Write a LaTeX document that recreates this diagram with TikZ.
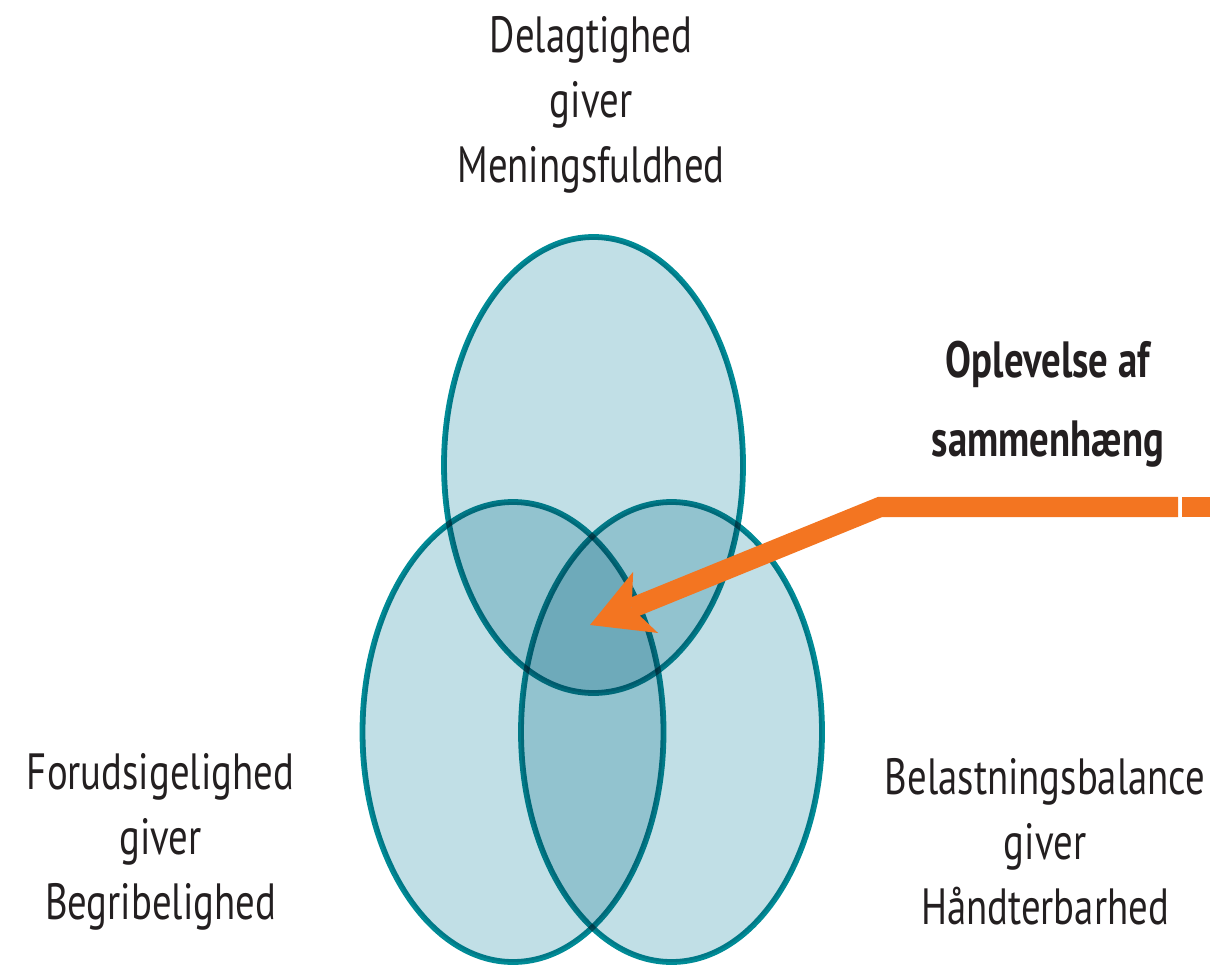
\documentclass[tikz,border=0pt]{standalone}
\usepackage{fontspec}
\setmainfont{PT Sans}[FakeStretch=0.76]
\usepackage{tikz}
\usetikzlibrary{arrows.meta}

\definecolor{vennfill}{HTML}{C1DFE6}
\definecolor{vennline}{HTML}{008B96}
\definecolor{pointer}{HTML}{F37521}
\definecolor{ink}{HTML}{231F20}

\begin{document}
\begin{tikzpicture}[
    set/.style={draw=vennline, fill=vennfill, line width=3.3pt},
    lbl/.style={align=center, text=ink, font=\fontsize{29}{37}\selectfont},
    ]
    \useasboundingbox (0,0) rectangle (24.52,19.3);

    % The three sets
    \begin{scope}[blend group=multiply]
        \draw[set] (11.87,10.0) ellipse (2.99 and 4.56);
        \draw[set] (10.26,4.66) ellipse (3.01 and 4.6);
        \draw[set] (13.43,4.66) ellipse (3.01 and 4.6);
    \end{scope}

    % The pointer
    \coordinate (tip) at (11.8,6.8);
    \coordinate (bend) at (17.6,9.16);
    \coordinate (cut) at (23.56,9.16);
    \coordinate (stub) at (23.64,9.16);
    \coordinate (end) at (24.2,9.16);
    \draw[pointer, line width=11.5pt,
        -{Stealth[length=1.2cm, width=1.32cm, inset=0.3cm, line width=0pt]}]
        (cut) -- (bend) -- (tip);
    \draw[pointer, line width=11.5pt] (stub) -- (end);

    % The labels
    \node[lbl] (mean) at (11.82,17.2) {Delagtighed\\giver\\Meningsfuldhed};
    \node[lbl] (comp) at (3.21,2.46) {Forudsigelighed\\giver\\Begribelighed};
    \node[lbl] (manage) at (20.9,2.46) {Belastningsbalance\\giver\\Håndterbarhed};
    \node[lbl, font=\bfseries\fontsize{29}{45}\selectfont] (soc) at (20.96,11.22) {Oplevelse af\\sammenhæng};
\end{tikzpicture}
\end{document}
